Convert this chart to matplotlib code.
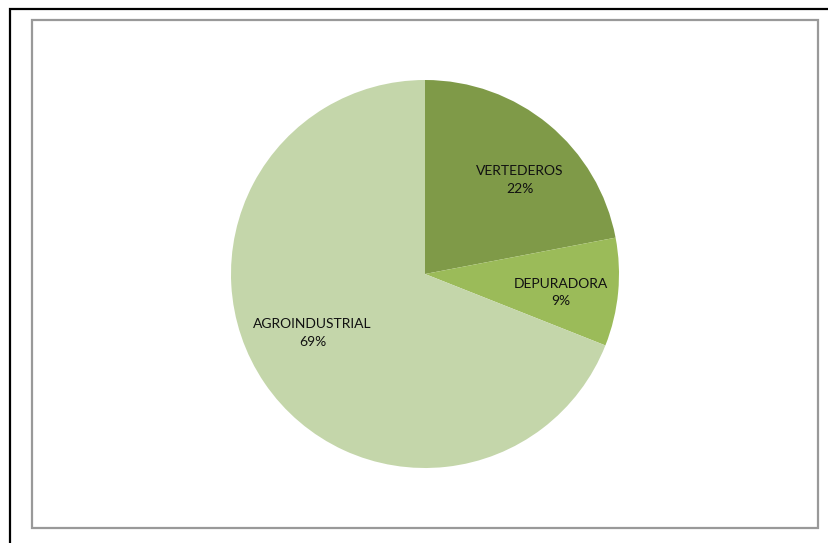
import matplotlib.pyplot as plt
from matplotlib.patches import Rectangle

labels = ['VERTEDEROS', 'DEPURADORA', 'AGROINDUSTRIAL']
values = [22, 9, 69]
colors = ['#7F9A48', '#9BBB59', '#C4D6AA']
# where each label sits, as (x, y) in pie units
label_pos = [(0.49, 0.485), (0.70, -0.095), (-0.58, -0.305)]

W, H = 829, 543
fig = plt.figure(figsize=(W / 100, H / 100), dpi=100)
fig.patch.set_facecolor('white')

# outer black frame (runs off the right/bottom edge) and grey chart-area frame
fig.patches.append(Rectangle((10 / W, -0.1), 1.2, 1 - 9 / H + 0.1, transform=fig.transFigure,
                             fill=False, edgecolor='black', linewidth=1.6))
fig.patches.append(Rectangle((32 / W, 1 - 528 / H), (818 - 32) / W, (528 - 20) / H,
                             transform=fig.transFigure, fill=False, edgecolor='#999999', linewidth=1.6))

cx, cy, r = 425, 274, 194
ax = fig.add_axes([(cx - r) / W, (H - cy - r) / H, 2 * r / W, 2 * r / H])
ax.pie(values, colors=colors, startangle=90, counterclock=False, radius=1,
       wedgeprops=dict(linewidth=0))
ax.set_xlim(-1, 1)
ax.set_ylim(-1, 1)
ax.set_aspect('equal')
ax.axis('off')

for name, v, (x, y) in zip(labels, values, label_pos):
    ax.text(x, y, f'{name}\n{v}%', ha='center', va='center', fontsize=10,
            family='Lato', linespacing=1.55, color='#111111')

fig.savefig('out.png', dpi=100)
